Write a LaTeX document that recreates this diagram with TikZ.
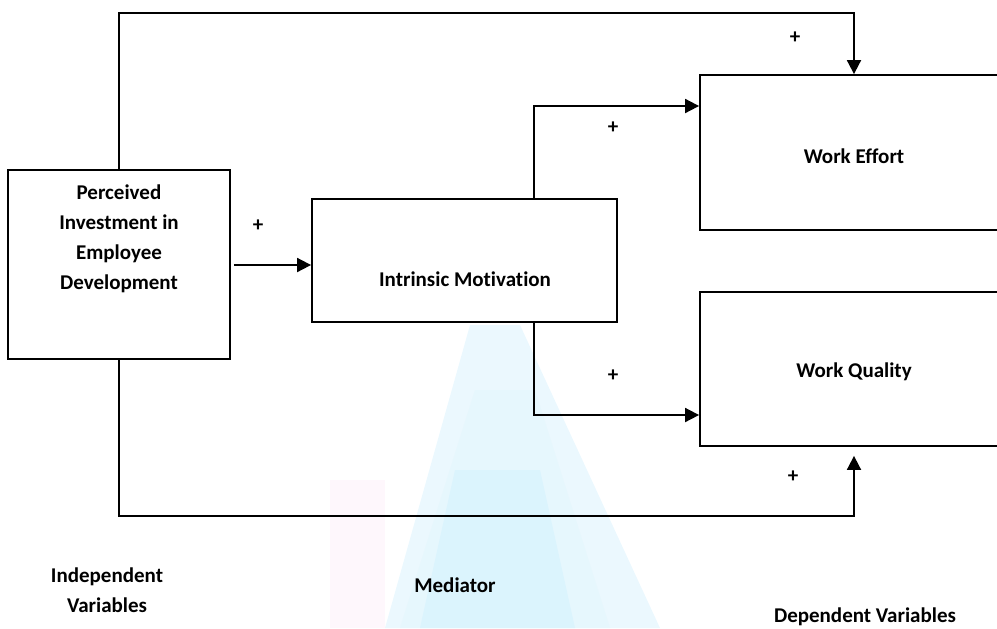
\documentclass[tikz,border=0pt]{standalone}
\usepackage{fontspec}
\setmainfont{Carlito}[Ligatures=NoCommon]
\usepackage{tikz}
\usetikzlibrary{positioning,arrows.meta}
\usepackage{xcolor}

\begin{document}
\begin{tikzpicture}[x=0.5pt,y=-0.5pt,
    box/.style={draw,line width=0.9pt,inner sep=0pt},
    conn/.style={line width=0.9pt,-{Triangle[length=7pt,width=7pt]}},
    txt/.style={font=\fontsize{10.5}{15}\selectfont\bfseries,align=center,inner sep=0pt},
    plus/.style={font=\fontsize{10.5}{12}\selectfont\bfseries,inner sep=0pt}]
      \useasboundingbox (0,0) rectangle (997,628);
      \clip (0,0) rectangle (997,628);
      % faint background mark
      \fill[cyan!8] (470,325) -- (520,325) -- (660,628) -- (385,628) -- cycle;
      \fill[cyan!10] (475,390) -- (535,390) -- (610,628) -- (400,628) -- cycle;
      \fill[cyan!14] (455,470) -- (540,470) -- (575,628) -- (420,628) -- cycle;
      \fill[magenta!3] (330,480) rectangle (385,628);
      % boxes
      \node[box,minimum width=111pt,minimum height=94.5pt] (ped) at (119,264.5) {};
      \node[box,minimum width=152.5pt,minimum height=61.5pt] (im) at (464.5,260.5) {};
      \node[box,minimum width=154pt,minimum height=77.5pt] (we) at (854,152.5) {};
      \node[box,minimum width=154pt,minimum height=77pt] (wq) at (854,369) {};
      \node[txt] (pedtxt) at (119,239) {Perceived\\Investment in\\Employee\\Development};
      \node[txt] (imtxt) at (465,279) {Intrinsic Motivation};
      \node[txt] (wetxt) at (854,156) {Work Effort};
      \node[txt] (wqtxt) at (854,372) {Work Quality};
      % paths
      \coordinate (topy) at (0,13);
      \coordinate (boty) at (0,516);
      \draw[conn] (ped.north) -- (ped.north |- topy) -| (we.north);
      \draw[conn,shorten >=4.5pt] (ped.south) -- (ped.south |- boty) -| (wq.south);
      \draw[conn,shorten <=1.5pt] ([yshift=-0.25pt]ped.east) -- ([yshift=-0.25pt]ped.east -| im.west);
      \draw[conn] ([xshift=34.75pt]im.north) |- ([yshift=23.25pt]we.west);
      \draw[conn] ([xshift=34.75pt]im.south) |- ([yshift=-23pt]wq.west);
      % signs
      \node[plus] (p1) at (258,226) {+};
      \node[plus] (p2) at (795,38) {+};
      \node[plus] (p3) at (613,128) {+};
      \node[plus] (p4) at (613,376) {+};
      \node[plus] (p5) at (793,477) {+};
      % group labels
      \node[txt] (indep) at (107,590) {Independent\\Variables};
      \node[txt] (med) at (455,585) {Mediator};
      \node[txt] (dep) at (865,617) {Dependent Variables};
    \end{tikzpicture}
\end{document}
